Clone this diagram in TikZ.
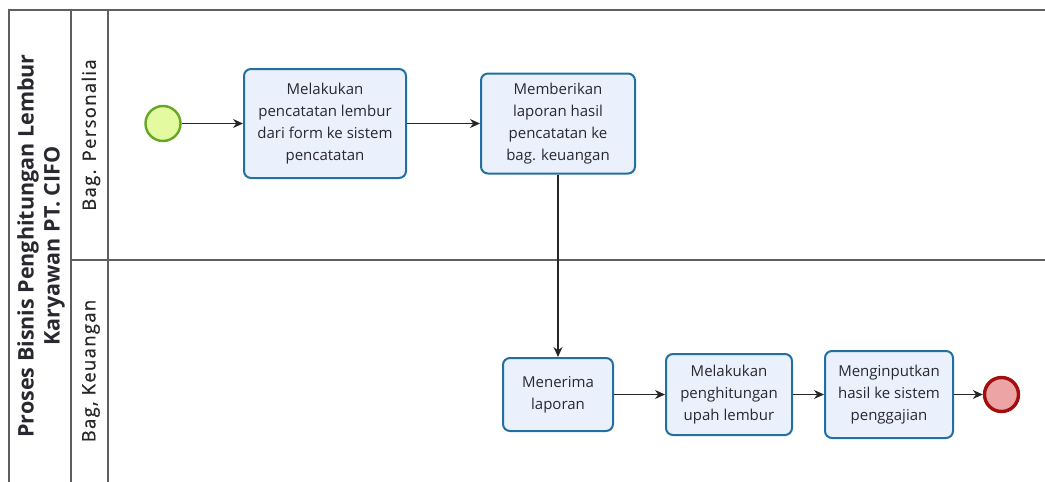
\documentclass[tikz,border=0pt]{standalone}
\usepackage{fontspec}
\setmainfont{Open Sans}
\newfontfamily\lanefont[LetterSpace=7,FakeBold=0.6]{Open Sans}
\usetikzlibrary{arrows.meta}
\definecolor{poolline}{RGB}{95,95,95}
\definecolor{taskedge}{RGB}{34,112,160}
\definecolor{taskfill}{RGB}{234,240,252}
\definecolor{startedge}{RGB}{98,168,32}
\definecolor{startfill}{RGB}{228,250,160}
\definecolor{endedge}{RGB}{165,14,14}
\definecolor{endfill}{RGB}{236,164,164}
\definecolor{txt}{RGB}{40,40,48}
\tikzset{
  task/.style={draw=taskedge, fill=taskfill, line width=2pt, rounded corners=7pt,
    align=center, text=txt, font=\fontsize{15}{22}\selectfont, inner sep=0pt},
  startev/.style={circle, draw=startedge, fill=startfill, line width=2.4pt, minimum size=35pt, inner sep=0pt},
  endev/.style={circle, draw=endedge, fill=endfill, line width=3.4pt, minimum size=34pt, inner sep=0pt},
  flow/.style={draw=black!85, line width=1.3pt, -{Stealth[length=10pt,width=9pt]}},
  poolframe/.style={draw=poolline, line width=1.2pt},
  lanelabel/.style={rotate=90, text=black!85, font=\lanefont\fontsize{18.5}{20}\selectfont}
}
\begin{document}
\begin{tikzpicture}[x=1pt,y=-1pt]
\useasboundingbox (0,0) rectangle (1045,482);
\fill[white] (0,0) rectangle (1045,482);

% pool and lanes
\draw[poolframe] (9,482) -- (9,10) -- (1045,10);
\draw[poolframe] (71,10) -- (71,482);
\draw[poolframe] (108,10) -- (108,482);
\draw[poolframe] (71,260) -- (1045,260);

\node[rotate=90, align=center, text=txt, font=\bfseries\fontsize{21.5}{26}\selectfont] (pool) at (41,246)
  {Proses Bisnis Penghitungan Lembur\\Karyawan PT. CIFO};
\node[lanelabel] (lane1) at (91,135) {Bag. Personalia};
\node[lanelabel] (lane2) at (91,371) {Bag, Keuangan};

% lane: Bag. Personalia
\node[startev] (start) at (163,123.5) {};
\node[task, minimum width=162pt, minimum height=109pt] (t1) at (325,123.5)
  {Melakukan\\pencatatan lembur\\dari form ke sistem\\pencatatan};
\node[task, minimum width=154pt, minimum height=100pt] (t2) at (558,123.5)
  {Memberikan\\laporan hasil\\pencatatan ke\\bag. keuangan};

% lane: Bag, Keuangan
\node[task, minimum width=110pt, minimum height=73pt] (t3) at (558,394.5)
  {Menerima\\laporan};
\node[task, minimum width=126pt, minimum height=81pt] (t4) at (729,394.5)
  {Melakukan\\penghitungan\\upah lembur};
\node[task, minimum width=128pt, minimum height=87pt] (t5) at (889,394.5)
  {Menginputkan\\hasil ke sistem\\penggajian};
\node[endev] (end) at (1001.5,394.5) {};

% sequence flows
\draw[flow] (start) -- (t1);
\draw[flow] (t1) -- (t2);
\draw[flow] (t2) -- (t3);
\draw[flow] (t3) -- (t4);
\draw[flow] (t4) -- (t5);
\draw[flow] (t5) -- (end);
\end{tikzpicture}
\end{document}
